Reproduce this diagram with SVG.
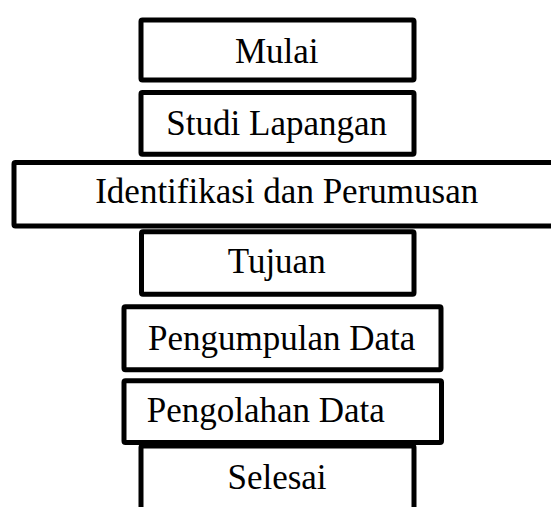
<svg xmlns="http://www.w3.org/2000/svg" width="551" height="507" viewBox="0 0 551 507">
  <style>
    .box { fill: #ffffff; stroke: #000000; stroke-width: 5; stroke-linejoin: round; }
    .lbl { font-family: "Liberation Serif", "Times New Roman", serif; font-size: 35px; fill: #000000; text-anchor: middle; }
  </style>
  <rect width="551" height="507" fill="#ffffff"/>
  <g id="connectors"></g>
  <g id="mulai">
    <rect class="box" x="141" y="20" width="273" height="60" rx="1.5"/>
    <text class="lbl" x="276.7" y="62.7">Mulai</text>
  </g>
  <g id="studi-lapangan">
    <rect class="box" x="141" y="92.5" width="273" height="61.7" rx="1.5"/>
    <text class="lbl" x="276.7" y="135">Studi Lapangan</text>
  </g>
  <g id="identifikasi">
    <rect class="box" x="14" y="162.5" width="600" height="63.5" rx="1.5"/>
    <text class="lbl" x="286.7" y="203.3">Identifikasi dan Perumusan</text>
  </g>
  <g id="tujuan">
    <rect class="box" x="141.5" y="231.8" width="272.5" height="62.4" rx="1.5"/>
    <text class="lbl" x="276.7" y="273">Tujuan</text>
  </g>
  <g id="pengumpulan-data">
    <rect class="box" x="124" y="306.8" width="317" height="62.9" rx="1.5"/>
    <text class="lbl" x="281.7" y="350">Pengumpulan Data</text>
  </g>
  <g id="pengolahan-data">
    <rect class="box" x="124" y="380.8" width="317.5" height="61.7" rx="1.5"/>
    <text class="lbl" x="146.7" y="421.7" style="text-anchor:start">Pengolahan Data</text>
  </g>
  <g id="selesai">
    <rect class="box" x="141" y="446" width="273" height="100" rx="1.5"/>
    <text class="lbl" x="277" y="489">Selesai</text>
  </g>
</svg>
